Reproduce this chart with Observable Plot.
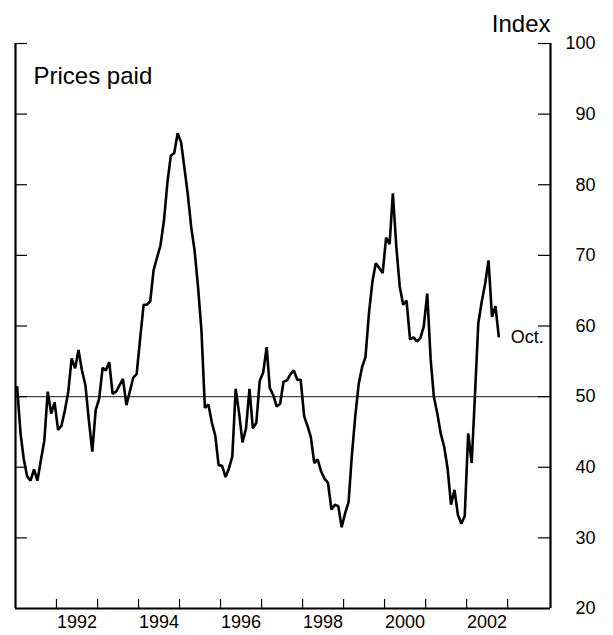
<!DOCTYPE html>
<html><head><meta charset="utf-8">
<script src="https://cdn.jsdelivr.net/npm/d3@7"></script>
<script src="https://cdn.jsdelivr.net/npm/@observablehq/plot@0.6"></script>
<style>
html,body{margin:0;padding:0;background:#fff}
#chart{width:613px;height:635px}
</style>
</head><body><div id="chart"></div>
<script>
// ---- data (monthly, Jan 1991 – Oct 2002) ----
const startYear = 1991;
const values = [
  51.5, 44.8, 41.2, 38.7, 38.1, 39.7, 38.1, 41.0, 43.8, 50.7, 47.6, 49.2, // 1991
  45.3, 45.9, 48.0, 50.7, 55.4, 54.0, 56.6, 53.7, 51.6, 46.7, 42.2, 48.1, // 1992
  49.7, 54.1, 53.7, 54.9, 50.4, 50.7, 51.6, 52.5, 48.8, 50.7, 52.7, 53.2, // 1993
  58.2, 63.0, 63.0, 63.5, 67.9, 69.7, 71.4, 74.9, 80.3, 84.1, 84.5, 87.3, // 1994
  86.0, 82.2, 78.7, 74.0, 70.7, 65.5, 59.4, 48.4, 48.9, 46.4, 44.5, 40.3, // 1995
  40.2, 38.6, 39.8, 41.5, 51.1, 47.6, 43.5, 45.5, 51.1, 45.5, 46.3, 52.2, // 1996
  53.4, 57.0, 51.2, 50.2, 48.6, 49.0, 52.1, 52.3, 53.2, 53.7, 52.4, 52.4, // 1997
  47.2, 45.8, 44.3, 40.6, 41.1, 39.4, 38.4, 37.8, 34.0, 34.7, 34.5, 31.5, // 1998
  33.5, 35.1, 41.5, 47.2, 51.7, 54.2, 55.6, 61.8, 66.3, 68.9, 68.2, 67.5, // 1999
  72.5, 71.6, 78.8, 71.2, 65.6, 63.0, 63.6, 58.1, 58.4, 57.8, 58.3, 59.9, // 2000
  64.6, 55.2, 50.0, 47.6, 44.8, 42.9, 39.9, 34.7, 36.8, 33.3, 32.0, 33.1, // 2001
  44.8, 40.6, 49.8, 60.4, 63.4, 66.0, 69.3, 61.3, 62.8, 58.4              // 2002
];
const yTicks = [20, 30, 40, 50, 60, 70, 80, 90, 100];
const yearTicks = [1992, 1993, 1994, 1995, 1996, 1997, 1998, 1999, 2000, 2001, 2002, 2003];
const yearLabels = [1992, 1994, 1996, 1998, 2000, 2002];
const referenceLevel = 50;
const titleText = "Prices paid";
const unitText = "Index";
const endLabel = "Oct.";

// ---- build table ----
const rows = values.map((v, i) => ({date: new Date(Date.UTC(startYear, i, 15)), value: v}));
const xDomain = [new Date(Date.UTC(1991, 0, 1)), new Date(Date.UTC(2004, 0, 18))];
const yearTickDates = yearTicks.map(y => new Date(Date.UTC(y, 0, 1)));
const yearLabelDates = yearLabels.map(y => new Date(Date.UTC(y, 6, 2)));

const W = 613, H = 635;
const mL = 15, mR = 63, mT = 43, mB = 27;
const frameW = W - mL - mR, frameH = H - mT - mB;
const tickLen = 12, xTickLen = 9;

const chart = Plot.plot({
  width: W, height: H,
  marginLeft: mL, marginRight: mR, marginTop: mT, marginBottom: mB,
  style: {fontFamily: "'Liberation Sans', Arial, Helvetica, sans-serif", fontSize: "18px", color: "#000", background: "#fff"},
  x: {type: "utc", domain: xDomain, axis: null},
  y: {domain: [20, 100], axis: null},
  marks: [
    Plot.ruleY([referenceLevel], {stroke: "#444", strokeWidth: 1.2}),
    // inward y ticks, left and right
    Plot.tickY(yTicks.filter(d => d > 20), {y: d => d, insetRight: frameW - tickLen, stroke: "#000", strokeWidth: 1.2}),
    Plot.tickY(yTicks.filter(d => d > 20), {y: d => d, insetLeft: frameW - tickLen, stroke: "#000", strokeWidth: 1.2}),
    // inward x ticks
    Plot.tickX(yearTickDates, {x: d => d, insetTop: frameH - xTickLen, stroke: "#000", strokeWidth: 1.2}),
    // frame sides
    Plot.ruleX(xDomain, {stroke: "#000", strokeWidth: 2.2}),
    Plot.ruleY([20], {stroke: "#000", strokeWidth: 2.2}),
    // labels
    Plot.axisY(yTicks, {anchor: "right", tickSize: 0, tickPadding: 45, textAnchor: "end", fontSize: 18, label: null}),
    Plot.axisX(yearLabelDates, {anchor: "bottom", tickSize: 0, tickPadding: 7, fontSize: 18, tickFormat: d => String(d.getUTCFullYear()), label: null}),
    // series
    Plot.line(rows, {x: "date", y: "value", stroke: "#000", strokeWidth: 2.6, strokeLinejoin: "miter", strokeLinecap: "butt"}),
    Plot.text(rows.slice(-1), {x: "date", y: "value", text: () => endLabel, dx: 12, textAnchor: "start", fontSize: 18, fill: "#000"}),
    Plot.text([titleText], {frameAnchor: "top-left", dx: 18, dy: 23, fontSize: 24, textAnchor: "start", lineAnchor: "top", fill: "#000"}),
    Plot.text([unitText], {frameAnchor: "top-right", dy: -12, fontSize: 24, textAnchor: "end", lineAnchor: "bottom", fill: "#000"})
  ]
});
document.getElementById("chart").appendChild(chart);
</script>
</body></html>
